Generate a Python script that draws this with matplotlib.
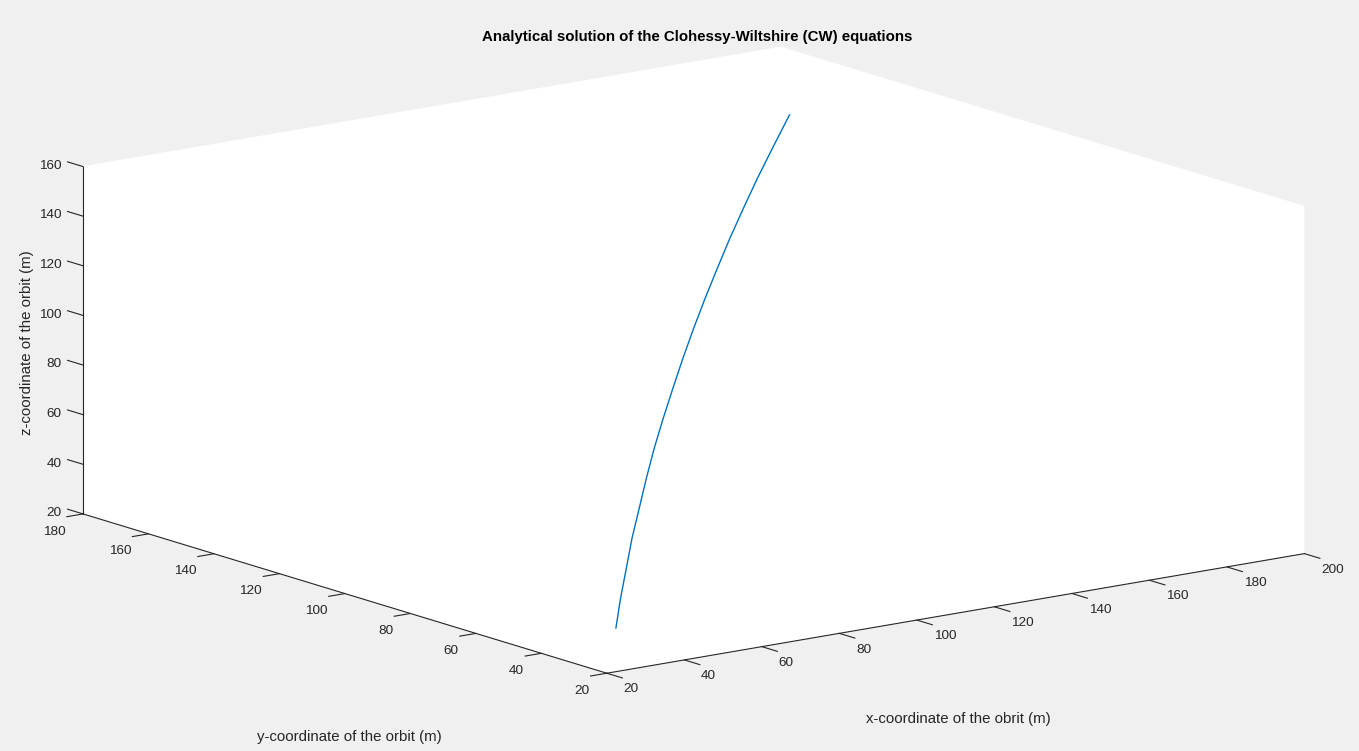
import matplotlib

matplotlib.use("Agg")
import matplotlib.pyplot as plt

# CW relative trajectory of the chaser (m)
x_orbit = [35.1, 39.6, 44.8, 50.5, 57.0, 64.0, 71.7, 80.1, 89.1, 98.7, 108.9, 119.8, 131.4, 143.5, 156.3, 169.7,
           183.8, 200.0]
y_orbit = [35.1, 39.0, 43.4, 48.4, 53.9, 60.0, 66.7, 73.9, 81.6, 89.9, 98.7, 108.1, 118.1, 128.6, 139.6, 151.2,
           163.3, 177.3]
z_orbit = [28.1, 37.4, 46.3, 54.9, 63.0, 70.8, 78.2, 85.1, 91.7, 97.9, 103.7, 109.1, 114.1, 118.7, 123.0, 126.8,
           130.3, 133.7]

x_ticks = list(range(20, 201, 20))
y_ticks = list(range(20, 181, 20))
z_ticks = list(range(20, 161, 20))

TITLE = "Analytical solution of the Clohessy-Wiltshire (CW) equations"
X_LABEL = "x-coordinate of the obrit (m)"
Y_LABEL = "y-coordinate of the orbit (m)"
Z_LABEL = "z-coordinate of the orbit (m)"

BG = "#f0f0f0"
AXIS_COLOR = "#262626"
LINE_COLOR = "#0072bd"
TICK_SIZE = 9.7
LABEL_SIZE = 10.8

plt.rcParams["font.family"] = ["Liberation Sans", "DejaVu Sans"]


def style_axis(axis, ticks, tick_in, tick_out, ha, va):
    axis.set_ticks(ticks)
    axis.set_pane_color((1.0, 1.0, 1.0, 1.0))
    axis.pane.set_edgecolor("white")
    axis.pane.set_linewidth(0.5)
    axis.line.set_color(AXIS_COLOR)
    axis.line.set_linewidth(0.8)
    # ticks only on the outer side of the box
    axis._axinfo["tick"]["inward_factor"] = tick_in
    axis._axinfo["tick"]["outward_factor"] = tick_out
    axis._axinfo["grid"]["linewidth"] = 0.0
    for label in axis.get_ticklabels():
        label.set_ha(ha)
        label.set_va(va)


def main():
    fig = plt.figure(figsize=(13.59, 7.51), dpi=100, facecolor=BG)
    ax = fig.add_axes([0.003, 0.007, 1.0, 1.0], projection="3d", proj_type="ortho")
    ax.set_facecolor("none")

    ax.plot(x_orbit, y_orbit, z_orbit, color=LINE_COLOR, linewidth=1.0)

    ax.set_xlim(20, 200)
    ax.set_ylim(20, 180)
    ax.set_zlim(20, 160)
    ax.set_box_aspect((1.0, 1.0, 0.409), zoom=1.66)
    ax.view_init(elev=13.2, azim=-126.9)
    ax.grid(False)

    style_axis(ax.xaxis, x_ticks, 0.37, 0.0, "left", "center")
    style_axis(ax.yaxis, y_ticks, 0.29, 0.0, "right", "top")
    style_axis(ax.zaxis, z_ticks, 0.0, 0.37, "right", "center")
    # z ticks run along y (as in MATLAB) instead of along x
    ax.zaxis._get_tickdir = lambda *args, **kwargs: 1
    ax.tick_params(axis="x", colors=AXIS_COLOR, labelsize=TICK_SIZE, width=0.8, pad=1)
    ax.tick_params(axis="y", colors=AXIS_COLOR, labelsize=TICK_SIZE, width=0.8, pad=-1)
    ax.tick_params(axis="z", colors=AXIS_COLOR, labelsize=TICK_SIZE, width=0.8, pad=-3)

    fig.suptitle(TITLE, x=697 / 1359, y=1 - 37 / 751, va="center", fontsize=LABEL_SIZE,
                 fontweight="bold", color="black")
    fig.text(958 / 1359, 1 - 719 / 751, X_LABEL, ha="center", va="center",
             fontsize=LABEL_SIZE, color=AXIS_COLOR)
    fig.text(349 / 1359, 1 - 737 / 751, Y_LABEL, ha="center", va="center",
             fontsize=LABEL_SIZE, color=AXIS_COLOR)
    fig.text(27 / 1359, 1 - 343 / 751, Z_LABEL, ha="center", va="center", rotation=90,
             fontsize=LABEL_SIZE, color=AXIS_COLOR)

    fig.savefig("out.png", dpi=100, facecolor=BG)
    plt.close(fig)


if __name__ == "__main__":
    main()
